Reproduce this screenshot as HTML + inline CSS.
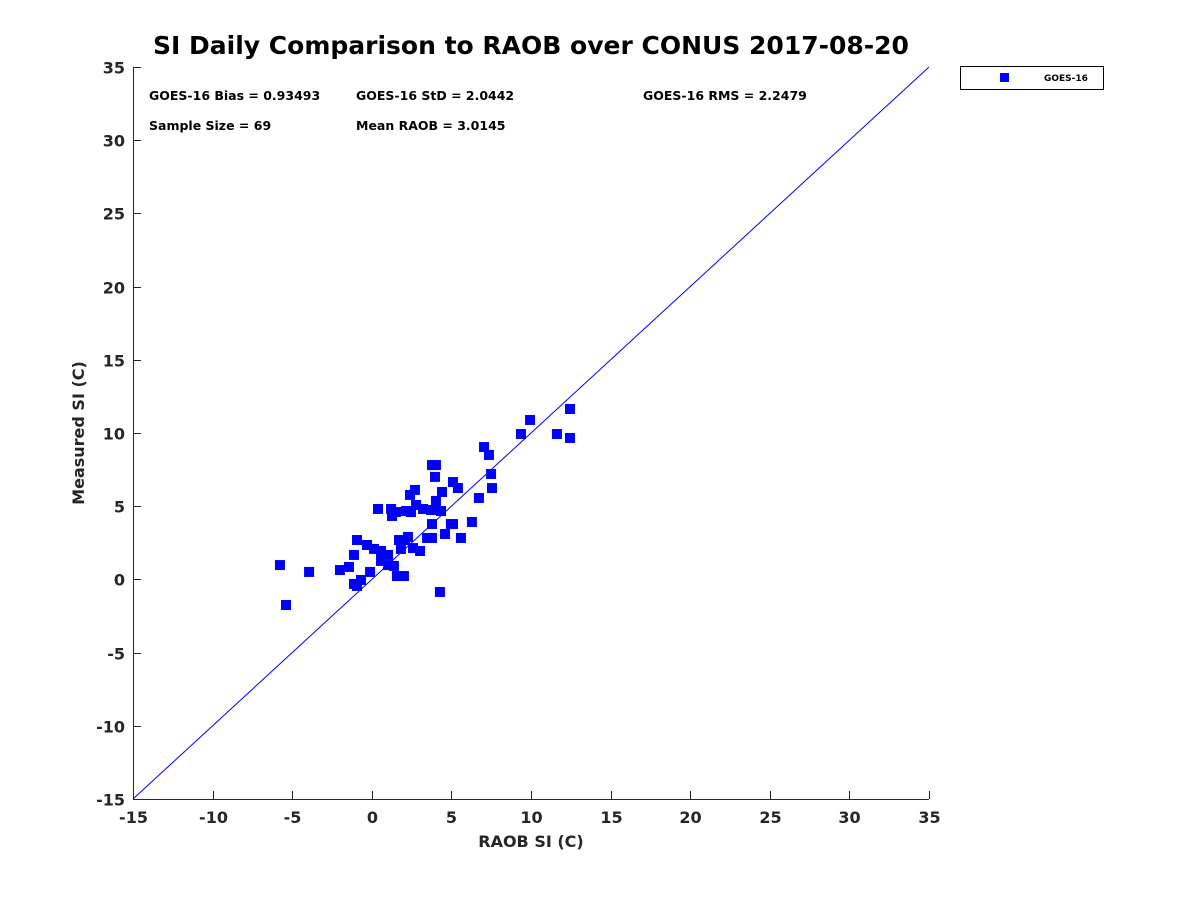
<!DOCTYPE html>
<html><head><meta charset="utf-8"><style>
body{margin:0;background:#fff;font-family:"Liberation Sans","DejaVu Sans",sans-serif}
</style></head><body>
<svg id="chart" width="1200" height="900" xmlns="http://www.w3.org/2000/svg" font-family="DejaVu Sans, Liberation Sans, sans-serif">
<rect width="1200" height="900" fill="#fff"/>
<text x="531" y="54" text-anchor="middle" font-size="25" font-weight="bold" fill="#000">SI Daily Comparison to RAOB over CONUS 2017-08-20</text>
<g id="axes"></g>
<g id="marks"></g>
<g font-size="12.5" font-weight="bold" fill="#000">
<text x="149" y="100">GOES-16 Bias = 0.93493</text>
<text x="356" y="100">GOES-16 StD = 2.0442</text>
<text x="643" y="100">GOES-16 RMS = 2.2479</text>
<text x="149" y="130">Sample Size = 69</text>
<text x="356" y="130">Mean RAOB = 3.0145</text>
</g>
<g>
<rect x="960.5" y="66.5" width="143" height="23" fill="#fff" stroke="#000" stroke-width="1"/>
<rect x="1000" y="73" width="9" height="9" fill="#0000ff"/>
<text x="1044" y="81" font-size="9" font-weight="bold">GOES-16</text>
</g>
<text x="531" y="847" text-anchor="middle" font-size="16" font-weight="bold" fill="#262626">RAOB SI (C)</text>
<text transform="translate(84,433) rotate(-90)" text-anchor="middle" font-size="16" font-weight="bold" fill="#262626">Measured SI (C)</text>
</svg>
<script>
const xTicks=[-15,-10,-5,0,5,10,15,20,25,30,35];
const yTicks=[-15,-10,-5,0,5,10,15,20,25,30,35];
const raob=[-5.77,-5.39,-3.94,-2.0,-1.43,-1.12,-0.93,-1.12,-0.93,-0.68,-0.30,-0.11,0.14,0.39,0.58,0.58,1.02,1.02,1.21,1.27,1.39,1.52,1.58,1.71,1.83,2.02,2.09,2.15,2.27,2.40,2.46,2.59,2.71,2.78,3.03,3.22,3.47,3.72,3.78,3.78,3.78,3.97,3.97,4.03,4.03,4.28,4.35,4.41,4.60,4.97,5.10,5.10,5.41,5.60,6.29,6.73,7.05,7.36,7.49,7.55,9.37,9.94,11.63,12.45,12.45];
const measured=[0.98,-1.75,0.51,0.64,0.85,1.67,2.69,-0.31,-0.45,-0.04,2.35,0.51,2.08,4.81,1.94,1.26,1.67,0.98,4.81,4.33,0.92,4.60,0.23,2.69,2.08,0.23,2.69,4.67,2.90,5.77,4.60,2.14,6.11,5.08,1.94,4.81,2.83,4.74,7.81,3.78,2.83,7.0,4.74,7.81,5.36,-0.86,4.67,5.97,3.10,3.78,6.65,3.78,6.24,2.83,3.92,5.56,9.04,8.50,7.20,6.24,9.93,10.89,9.93,11.64,9.66];
const X0=133,X1=929,Y0=799,Y1=67;
function sx(v){return X0+(v+15)/50*(X1-X0);}
function sy(v){return Y0-(v+15)/50*(Y0-Y1);}
const NS="http://www.w3.org/2000/svg";
function mk(t,a){const e=document.createElementNS(NS,t);for(const k in a)e.setAttribute(k,a[k]);return e;}
const ax=document.getElementById('axes');
const xl=mk('line',{x1:X0,y1:Y0+0.5,x2:X1,y2:Y0+0.5,stroke:'#262626'});


ax.appendChild(xl);
const yl=mk('line',{x1:X0+0.5,y1:Y0,x2:X0+0.5,y2:Y1,stroke:'#262626'});


ax.appendChild(yl);
xTicks.forEach(v=>{const x=Math.round(sx(v))+0.5;
ax.appendChild(mk('line',{x1:x,y1:Y0,x2:x,y2:Y0-8,stroke:'#262626'}));
const t=mk('text',{x:x,y:Y0+24,'text-anchor':'middle','font-size':16,'font-weight':'bold',fill:'#262626'});


t.textContent=v;ax.appendChild(t);});
yTicks.forEach(v=>{const y=Math.round(sy(v))+0.5;
ax.appendChild(mk('line',{x1:X0,y1:y,x2:X0+8,y2:y,stroke:'#262626'}));
const t=mk('text',{x:X0-8,y:y+6,'text-anchor':'end','font-size':16,'font-weight':'bold',fill:'#262626'});


t.textContent=v;ax.appendChild(t);});
const g=document.getElementById('marks');
const one=mk('line',{x1:sx(-15),y1:sy(-15),x2:sx(35),y2:sy(35),stroke:'#0000ff','stroke-width':1});


g.appendChild(one);
raob.forEach((v,i)=>{const r=mk('rect',{x:sx(v)-5,y:sy(measured[i])-5,width:10,height:10,fill:'#0000ff'});


g.appendChild(r);});
</script>
</body></html>
